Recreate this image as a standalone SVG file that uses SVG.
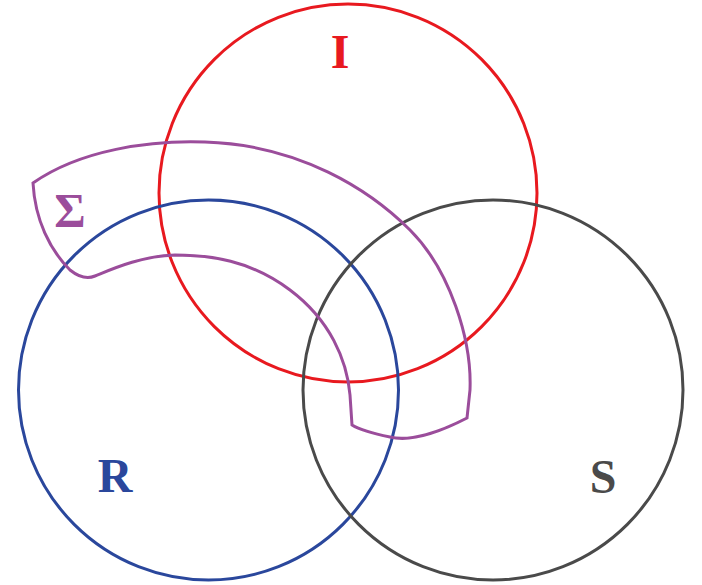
<svg xmlns="http://www.w3.org/2000/svg" width="702" height="585" viewBox="0 0 702 585">
<style>
.c{fill:none;stroke-width:3}
.t{font-family:"Liberation Serif","Times New Roman",serif;font-weight:bold;font-size:48px;text-anchor:middle}
</style>
<rect width="702" height="585" fill="#fff"/>
<g id="I">
<circle class="c" cx="348" cy="193" r="189" stroke="#e8191f"/>
<text class="t" x="340" y="68" fill="#e8191f">I</text>
</g>
<g id="R">
<circle class="c" cx="208.5" cy="390" r="190" stroke="#2a479c"/>
<text class="t" x="115" y="492" fill="#2a479c">R</text>
</g>
<g id="S">
<circle class="c" cx="493" cy="390" r="190" stroke="#4a4a4a"/>
<text class="t" x="603" y="493" fill="#4a4a4a">S</text>
</g>
<g id="Sigma">
<path class="c" stroke="#9b4d9b" d="M 33,183 C 80,150 150,140 205,142 C 300,145 370,190 410,230 C 450,270 472,340 470,390 L 467,418 C 440,432 410,442 390,437 C 375,434 360,430 352,425 L 350,395 C 347,360 330,320 290,290 C 250,260 210,255 175,255 C 140,256 110,270 95,276 C 88,279 80,278 70,270 C 50,250 35,220 33,183 Z"/>
<text class="t" x="70" y="227" fill="#9b4d9b">Σ</text>
</g>
</svg>
